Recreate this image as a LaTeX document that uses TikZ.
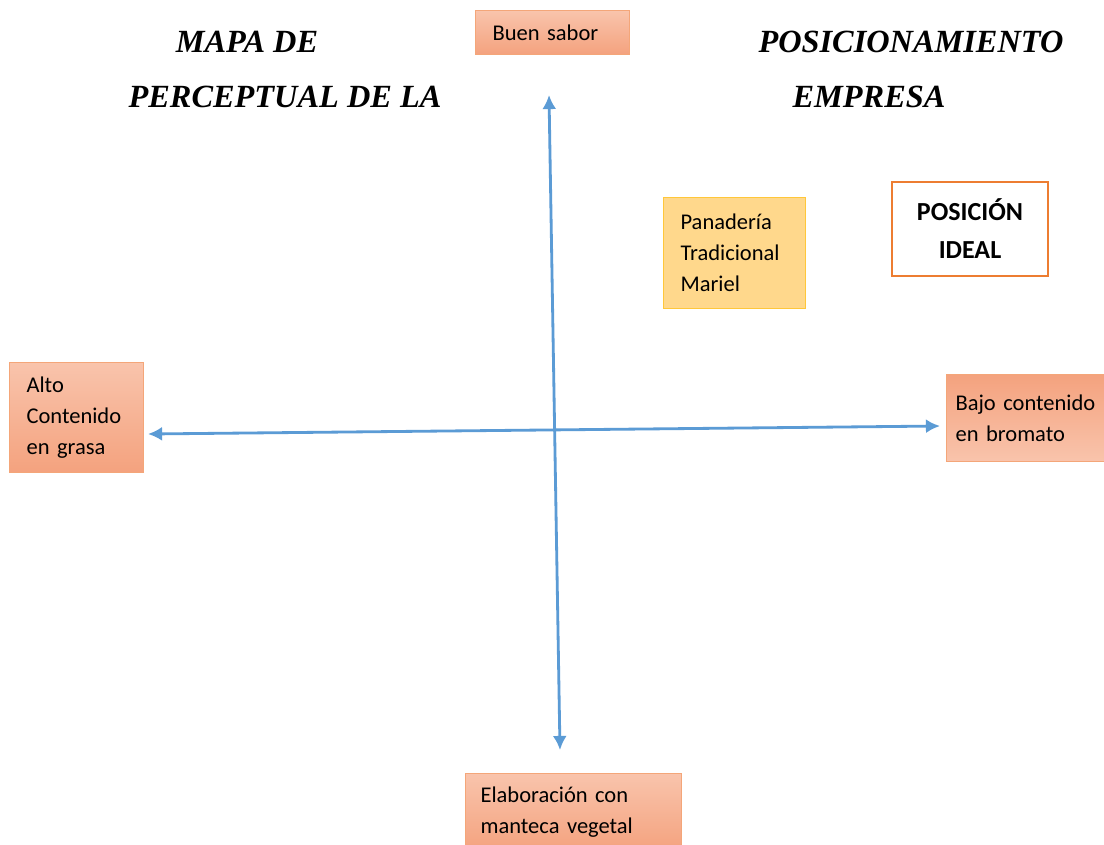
\documentclass[tikz,border=0pt]{standalone}
\usepackage{fontspec}
\setmainfont{Liberation Serif}
\newfontfamily\boxfont{Carlito}
\usetikzlibrary{arrows.meta}

\definecolor{ejeazul}{HTML}{5B9BD5}
\definecolor{salmonclaro}{HTML}{F9C4AC}
\definecolor{salmonoscuro}{HTML}{F4A27E}
\definecolor{bordesalmon}{HTML}{F4A679}
\definecolor{amarillo}{HTML}{FFD88C}
\definecolor{bordeamarillo}{HTML}{FFC73A}
\definecolor{naranja}{HTML}{ED7D31}

\begin{document}
\begin{tikzpicture}[x=0.025cm, y=-0.025cm,
	titulo/.style={font=\fontsize{23}{27}\selectfont\bfseries\itshape},
	caja/.style={draw=bordesalmon, line width=0.8pt, top color=salmonclaro, bottom color=salmonoscuro,
		anchor=north west, align=left, inner sep=0pt,
		font=\boxfont\fontsize{16}{22}\selectfont},
	eje/.style={ejeazul, line width=2pt, {Latex[length=10pt,width=10pt]}-{Latex[length=10pt,width=10pt]}}]
	
	\clip (0,0) rectangle (1104,844);
	\fill[white] (0,0) rectangle (1104,844);
	
	% titulo
	\node[titulo] (mapa) at (247,42) {MAPA DE};
	\node[titulo] (posic) at (911,42) {POSICIONAMIENTO};
	\node[titulo] (percep) at (285,97) {PERCEPTUAL DE LA};
	\node[titulo] (empresa) at (869,97) {EMPRESA};
	
	% cajas de los ejes
	\node[caja, minimum width=3.85cm, minimum height=1.1cm, text width=3.0cm] (sabor) at (475,10) {Buen sabor};
	\node[caja, minimum width=3.35cm, minimum height=2.75cm, text width=2.5cm] (grasa) at (9,362) {Alto\\Contenido\\en grasa};
	\node[caja, shading angle=90, top color=salmonoscuro, bottom color=salmonclaro,
		minimum width=3.95cm, minimum height=2.18cm, text width=3.5cm] (bromato) at (946,374) {Bajo contenido\\en bromato};
	\node[caja, minimum width=5.4cm, minimum height=1.95cm, text width=4.65cm] (manteca) at (465,773) {Elaboraci\'on con\\manteca vegetal};
	
	% empresa y posicion ideal
	\node[caja, draw=bordeamarillo, fill=amarillo, top color=amarillo, bottom color=amarillo,
		minimum width=3.55cm, minimum height=2.78cm, text width=2.7cm] (mariel) at (663,197) {Panader\'ia\\Tradicional\\Mariel};
	\node[draw=naranja, line width=1.6pt, fill=white, align=center, inner sep=0pt,
		minimum width=3.9cm, minimum height=2.35cm,
		font=\boxfont\bfseries\fontsize{18.5}{27}\selectfont] (ideal) at (970,229) {POSICI\'ON\\IDEAL};
	
	% ejes
	\coordinate (arriba) at (549,95);
	\coordinate (abajo) at (560,750);
	\coordinate (izq) at (148,434);
	\coordinate (der) at (940,426);
	\draw[eje] (arriba) -- (abajo);
	\draw[eje] (izq) -- (der);
\end{tikzpicture}
\end{document}
